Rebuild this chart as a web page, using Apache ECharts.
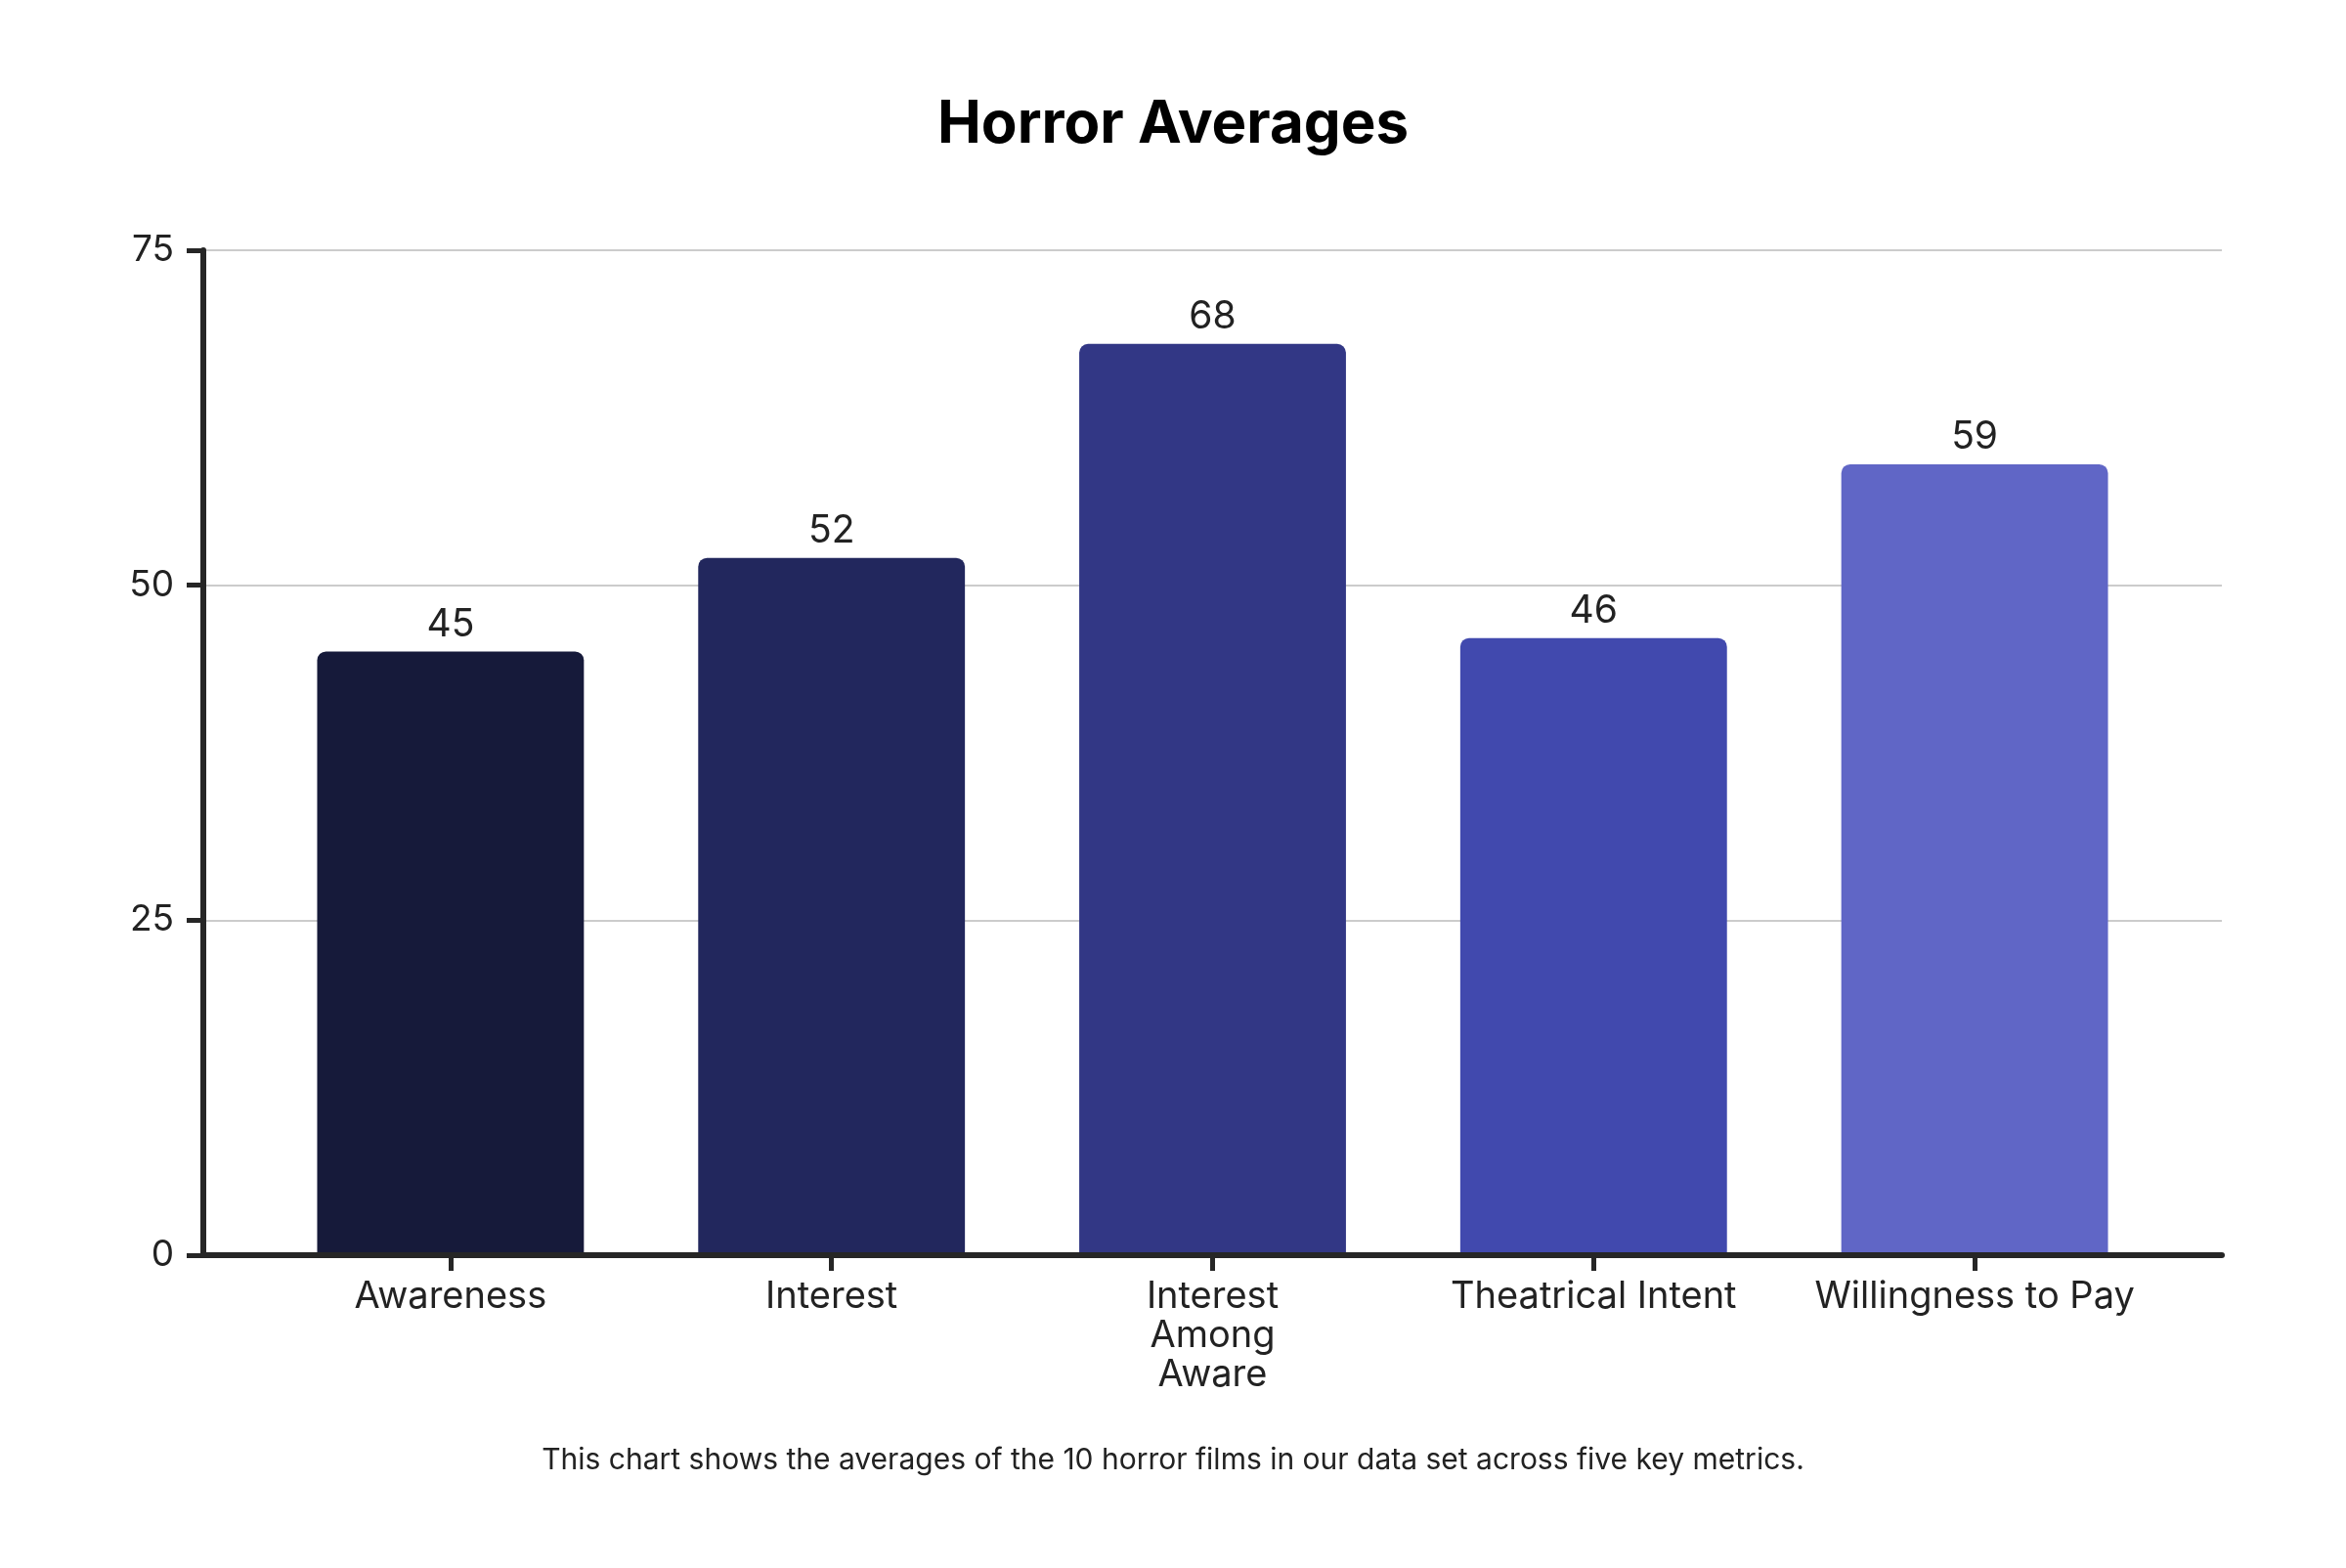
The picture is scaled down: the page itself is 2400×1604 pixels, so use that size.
<!DOCTYPE html>
<html lang="en">
<head>
    <meta charset="UTF-8">
    <title>Horror Averages</title>
    <script src="https://cdn.jsdelivr.net/npm/echarts@6/dist/echarts.min.js"></script>
    <style>
        html, body { margin: 0; padding: 0; background: #fff; }
        #chart { width: 2400px; height: 1604px; }
    </style>
</head>
<body>
    <div id="chart"></div>
    <script>
        // data
        var categories = ['Awareness', 'Interest', 'Interest\nAmong\nAware', 'Theatrical Intent', 'Willingness to Pay'];
        var values = [45, 52, 68, 46, 59];
        var yTicks = [0, 25, 50, 75];

        // one colour per bar, dark to light
        var barColors = ['#161a3a', '#22275d', '#323785', '#4149ae', '#6066c6'];

        var chart = echarts.init(document.getElementById('chart'));
        var font = 'Inter';
        var ink = '#262626';

        var option = {
            backgroundColor: '#ffffff',
            animation: false,
            textStyle: { fontFamily: font },
            title: [
                {
                    text: 'Horror Averages',
                    left: 'center',
                    top: 93,
                    textStyle: { fontFamily: font, fontSize: 60, fontWeight: 'bold', color: '#000' }
                },
                {
                    text: 'This chart shows the averages of the 10 horror films in our data set across five key metrics.',
                    left: 'center',
                    top: 1474,
                    textStyle: { fontFamily: font, fontSize: 30, fontWeight: 'normal', color: '#222' }
                }
            ],
            grid: [
                // full frame: y axis, grid lines, x axis line
                { left: 208, right: 127, top: 256, bottom: 320 },
                // band area for the bars, inset so the outer padding matches
                { left: 266, right: 185, top: 256, bottom: 322 }
            ],
            xAxis: [
                {
                    gridIndex: 0,
                    type: 'value',
                    min: 0,
                    max: 1,
                    z: 10,
                    axisLine: { show: true, lineStyle: { color: ink, width: 6 } },
                    axisTick: { show: false },
                    axisLabel: { show: false },
                    splitLine: { show: false }
                },
                {
                    gridIndex: 1,
                    type: 'category',
                    data: categories,
                    axisLine: { show: false },
                    axisTick: { show: true, alignWithLabel: true, length: 18, lineStyle: { color: ink, width: 5 } },
                    axisLabel: { margin: 25, fontFamily: font, fontSize: 38, color: '#222', lineHeight: 40, interval: 0 },
                    splitLine: { show: false }
                }
            ],
            yAxis: [
                {
                    gridIndex: 0,
                    type: 'value',
                    min: yTicks[0],
                    max: yTicks[yTicks.length - 1],
                    interval: 25,
                    axisLine: { show: true, lineStyle: { color: ink, width: 6 } },
                    axisTick: { show: true, length: 17, lineStyle: { color: ink, width: 5 } },
                    axisLabel: { margin: 30, fontFamily: font, fontSize: 37, color: '#222' },
                    splitLine: { show: true, lineStyle: { color: '#cccccc', width: 2 } }
                },
                {
                    gridIndex: 1,
                    type: 'value',
                    min: yTicks[0],
                    max: yTicks[yTicks.length - 1],
                    show: false,
                    splitLine: { show: false }
                }
            ],
            series: [
                {
                    type: 'bar',
                    xAxisIndex: 1,
                    yAxisIndex: 1,
                    barCategoryGap: '30%',
                    data: values.map(function (v, i) {
                        return { value: v, itemStyle: { color: barColors[i] } };
                    }),
                    itemStyle: { borderRadius: [9, 9, 0, 0] },
                    label: {
                        show: true,
                        position: 'top',
                        distance: 8,
                        fontFamily: font,
                        fontSize: 39,
                        color: '#222'
                    }
                }
            ]
        };

        chart.setOption(option);
    </script>
</body>
</html>
